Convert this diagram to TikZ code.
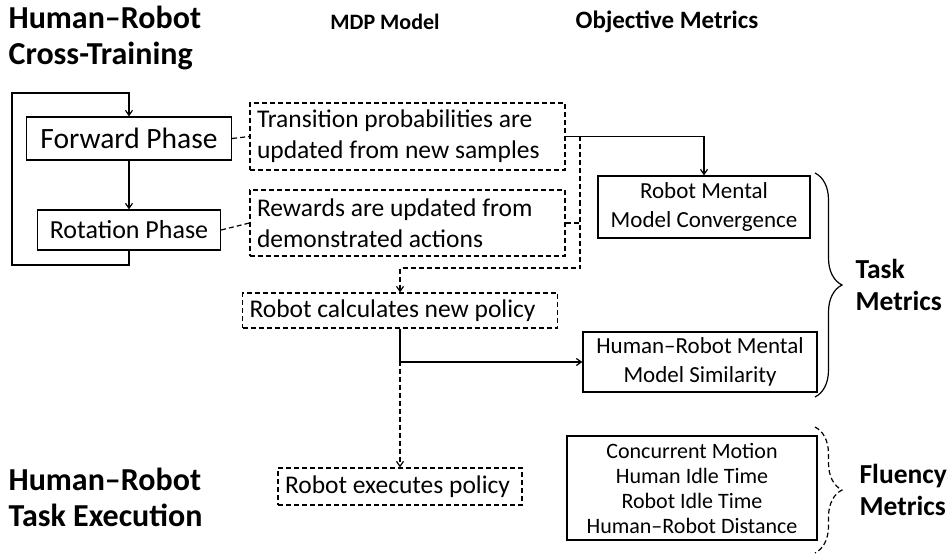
\documentclass[tikz,border=0pt]{standalone}
\usepackage{fontspec}
\setmainfont{Carlito}
\usetikzlibrary{positioning,arrows.meta,decorations.pathreplacing}

\begin{document}
\begin{tikzpicture}[x=1pt,y=-1pt,line width=1.2pt,>={Straight Barb[length=5pt,width=7pt]}]
        \tikzstyle{every node}+=[inner sep=0pt]
        \tikzstyle{heading}=[font=\bfseries\fontsize{32}{36}\selectfont, align=flush left, anchor=west]
        \tikzstyle{colhead}=[font=\bfseries\fontsize{22}{26}\selectfont]
        \tikzstyle{group}=[font=\bfseries\fontsize{27.5}{32}\selectfont, align=flush left, anchor=west]
        \tikzstyle{phase}=[draw, line width=1.3pt]
        \tikzstyle{mdp}=[draw, dash pattern=on 5pt off 3pt, align=flush left, inner xsep=7pt,
                font=\fontsize{25.5}{31}\selectfont]
        \tikzstyle{metric}=[draw, line width=1.3pt, align=center, font=\fontsize{23}{29}\selectfont]
        \tikzstyle{dashedline}=[dash pattern=on 5pt off 3pt]
        \useasboundingbox (0,0) rectangle (947,556);
        % column titles
        \node [heading] (crosstitle) at (8,38) {Human--Robot\\Cross-Training};
        \node [heading] (exectitle) at (8,497) {Human--Robot\\Task Execution};
        \node [colhead] (mdptitle) at (385,22) {MDP Model};
        \node [colhead, font=\bfseries\fontsize{25}{28}\selectfont] (objtitle) at (667,22) {Objective Metrics};
        % phases
        \node [phase, minimum width=205pt, minimum height=43pt, font=\fontsize{29.5}{32}\selectfont] (forward) at (129,138.5) {Forward Phase};
        \node [phase, minimum width=183pt, minimum height=40pt, font=\fontsize{26}{28}\selectfont] (rotation) at (129,230) {Rotation Phase};
        % MDP model
        \node [mdp, text width=301pt, minimum height=67pt] (trans) at (407.5,136.5) {Transition probabilities are\\updated from new samples};
        \node [mdp, text width=301pt, minimum height=66pt] (reward) at (407.5,223) {Rewards are updated from\\demonstrated actions};
        \node [mdp, text width=301pt, minimum height=35pt] (calc) at (400,310.5) {Robot calculates new policy};
        \node [mdp, text width=230pt, minimum height=37pt] (exec) at (400,486.5) {Robot executes policy};
        % metrics
        \node [metric, minimum width=212pt, minimum height=62pt] (converge) at (704,207) {Robot Mental\\Model Convergence};
        \node [metric, minimum width=234pt, minimum height=60pt] (similar) at (700,362) {Human--Robot Mental\\Model Similarity};
        \node [metric, minimum width=250pt, minimum height=104pt, font=\fontsize{22}{25}\selectfont] (fluent) at (692,488)
                {Concurrent Motion\\Human Idle Time\\Robot Idle Time\\Human--Robot Distance};
        % loop
        \coordinate (loopbl) at (12,265);
        \coordinate (looptl) at (12,93);
        \draw [->] (rotation.south) |- (loopbl) -- (looptl) -| (forward.north);
        \draw [->] (forward) -- (rotation);
        \draw [dashedline] (forward.east) -- (trans.west);
        \draw [dashedline] (rotation.east) -- (reward.west);
        \draw [->] (trans.east) -| (converge.north);
        \coordinate (mtop) at (580,136.5);
        \coordinate (mbot) at (580,268);
        \draw [dashedline] (reward.east) -- (reward.east -| mtop);
        \draw [dashedline,->] (mtop) -- (mbot) -| (calc.north);
        \draw [dashedline,->] (calc.south) -- (exec.north);
        \draw [->] (calc.south) |- (similar.west);
        % braces
        \draw [decorate, decoration={brace, amplitude=27pt}] (815,173) -- (815,397);
        \draw [dashedline, decorate, decoration={brace, amplitude=27pt}] (815,427) -- (815,553);
        \node [group] (tasklabel) at (855,285) {Task\\Metrics};
        \node [group] (fluencylabel) at (859,490) {Fluency\\Metrics};
\end{tikzpicture}
\end{document}
